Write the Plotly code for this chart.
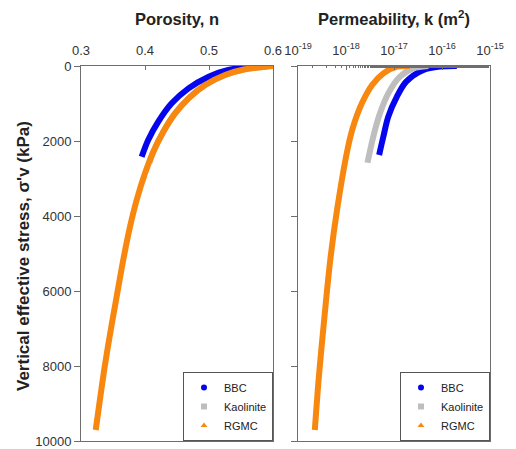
import plotly.graph_objects as go

# ---------------- data ----------------
# Porosity panel (vertical effective stress in kPa, porosity n)
sig_n_bbc = [0, 18, 107, 284, 596, 996, 1484, 1973, 2418]
n_bbc = [0.595, 0.567, 0.530, 0.4995, 0.468, 0.4417, 0.4208, 0.405, 0.3948]

sig_n_kao = [0, 18, 88, 240, 507, 862, 1262, 1751, 2285, 2580]
n_kao = [0.600, 0.5875, 0.556, 0.525, 0.494, 0.468, 0.447, 0.4286, 0.413, 0.407]

sig_n_rgmc = [0, 18, 88, 240, 507, 862, 1262, 1751, 2285, 2862, 3573, 4285, 5173, 6152,
              7040, 8019, 8907, 9707]
n_rgmc = [0.600, 0.5875, 0.556, 0.525, 0.494, 0.468, 0.447, 0.4286, 0.413, 0.400, 0.387,
          0.3766, 0.366, 0.3557, 0.3465, 0.337, 0.3295, 0.323]

# Permeability panel (vertical effective stress in kPa, k in m^2)
sig_k_bbc = [0, 15, 107, 418, 818, 1351, 1884, 2373]
k_bbc = [2.04e-16, 9.1e-17, 4.1e-17, 1.8e-17, 1.15e-17, 7.6e-18, 6.0e-18, 4.9e-18]

sig_k_kao = [0, 62, 284, 729, 1262, 1884, 2580]
k_kao = [5.2e-17, 2.5e-17, 1.33e-17, 7.6e-18, 5.1e-18, 3.7e-18, 2.8e-18]

sig_k_rgmc = [0, 18, 195, 507, 996, 1618, 2240, 3840, 5173, 6952, 8285, 9707]
k_rgmc = [2.14e-17, 1.15e-17, 6.0e-18, 3.5e-18, 2.14e-18, 1.41e-18, 1.07e-18, 6.5e-19,
          4.7e-19, 3.4e-19, 2.72e-19, 2.24e-19]

series_names = ["BBC", "Kaolinite", "RGMC"]
series_colors = ["#0505EE", "#BEBEBE", "#F7870F"]
series_symbols = ["circle", "square", "triangle-up"]

n_ticks = [0.3, 0.4, 0.5, 0.6]
n_ticktext = ["0.3", "0.4", "0.5", "0.6"]
k_ticks = [1e-19, 1e-18, 1e-17, 1e-16, 1e-15]
k_ticktext = ["10<sup>-19</sup>", "10<sup>-18</sup>", "10<sup>-17</sup>",
              "10<sup>-16</sup>", "10<sup>-15</sup>"]
sig_ticks = [0, 2000, 4000, 6000, 8000, 10000]
sig_ticktext = ["0", "2000", "4000", "6000", "8000", "10000"]

# ---------------- figure ----------------
# the page body has an 8 px margin, so the figure is 8 px smaller and shifted
OFF = 8
W, H = 516 - OFF, 449 - OFF


def px(x):
    return (x - OFF) / W


def py(y):
    return 1 - (y - OFF) / H


FONT = "Liberation Sans, Arial, sans-serif"
AX = "#6e6e6e"

fig = go.Figure()

por = [(sig_n_kao, n_kao, 1), (sig_n_bbc, n_bbc, 0), (sig_n_rgmc, n_rgmc, 2)]
for s, n, i in por:
    fig.add_trace(go.Scatter(x=n, y=s, mode="lines",
                             line=dict(color=series_colors[i], width=6, shape="spline", smoothing=0.9),
                             xaxis="x", yaxis="y", showlegend=False, hoverinfo="skip"))

perm = [(sig_k_bbc, k_bbc, 0), (sig_k_kao, k_kao, 1), (sig_k_rgmc, k_rgmc, 2)]
for s, k, i in perm:
    fig.add_trace(go.Scatter(x=k, y=s, mode="lines",
                             line=dict(color=series_colors[i], width=6, shape="spline", smoothing=0.9),
                             xaxis="x2", yaxis="y2", showlegend=False, hoverinfo="skip"))

# legend entries (marker symbols) for each panel
for leg, xa, ya in [("legend", "x", "y"), ("legend2", "x2", "y2")]:
    for i, name in enumerate(series_names):
        fig.add_trace(go.Scatter(x=[None], y=[None], mode="markers", name=name,
                                 marker=dict(color=series_colors[i], symbol=series_symbols[i], size=6),
                                 xaxis=xa, yaxis=ya, legend=leg))

x1 = [px(81), px(273)]
x2 = [px(298), px(490)]
yd = [py(441), py(66)]

common_y = dict(range=[10000, 0], tickvals=sig_ticks, showline=True, linecolor=AX, linewidth=1,
                mirror=True, ticks="outside", ticklen=6, tickcolor=AX, showgrid=False, zeroline=False,
                domain=yd, automargin=False)

legend_style = dict(bgcolor="white", bordercolor="#555555", borderwidth=1,
                    font=dict(family=FONT, size=11, color="#222"), xanchor="right", yanchor="bottom",
                    tracegroupgap=0, itemsizing="trace")

fig.update_layout(
    width=W, height=H,
    margin=dict(l=0, r=0, t=0, b=0),
    paper_bgcolor="white", plot_bgcolor="white",
    font=dict(family=FONT, size=13, color="#333"),
    xaxis=dict(domain=x1, range=[0.3, 0.6], tickvals=n_ticks, ticktext=n_ticktext,
               side="top", anchor="y", showline=True, linecolor=AX, mirror=True, ticks="inside", ticklen=4,
               tickcolor=AX, showgrid=False, zeroline=False, automargin=False, ticklabelstandoff=5),
    yaxis=dict(anchor="x", ticktext=sig_ticktext, **common_y),
    xaxis2=dict(domain=x2, type="log", range=[-19, -15], tickvals=k_ticks, ticktext=k_ticktext,
                side="top", anchor="y2", showline=True, linecolor=AX, mirror=True, ticks="inside", ticklen=4,
                tickcolor=AX, showgrid=False, zeroline=False, automargin=False, ticklabelstandoff=5,
                minor=dict(ticks="inside", ticklen=2, tickcolor=AX, showgrid=False)),
    yaxis2=dict(anchor="x2", showticklabels=False, **common_y),
    legend=dict(x=px(273), y=py(441), **legend_style),
    legend2=dict(x=px(490), y=py(441), **legend_style),
)

fig.add_annotation(text="<b>Porosity, n</b>", xref="paper", yref="paper", x=px(177), y=py(19),
                   showarrow=False, font=dict(size=16.5, color="#222"), xanchor="center", yanchor="middle")
fig.add_annotation(text="<b>Permeability, k (m<sup>2</sup>)</b>", xref="paper", yref="paper", x=px(394),
                   y=py(18), showarrow=False, font=dict(size=16.5, color="#222"), xanchor="center",
                   yanchor="middle")
fig.add_annotation(text="<b>Vertical effective stress, σ'v (kPa)</b>", xref="paper", yref="paper",
                   x=px(23), y=py(256), showarrow=False, textangle=-90,
                   font=dict(size=17, color="#222"), xanchor="center", yanchor="middle")

fig.write_html("out.html")
